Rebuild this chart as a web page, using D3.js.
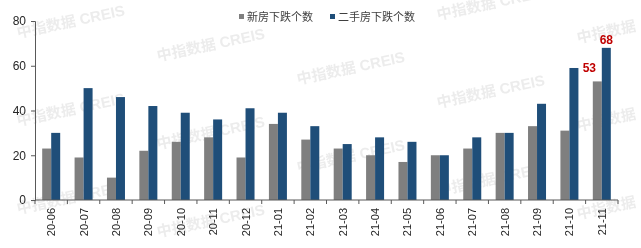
<!DOCTYPE html>
<html lang="zh">
  <head>
    <meta charset="utf-8">
    <title>新房/二手房下跌个数</title>
    <script src="https://d3js.org/d3.v7.js"></script>
    <style>
      body { margin: 0; background: #fff; }
      text { font-family: "Liberation Sans", "Noto Sans CJK SC", sans-serif; }
    </style>
  </head>
  <body>
    <script type="text/javascript">
      var months = ["20-06","20-07","20-08","20-09","20-10","20-11","20-12","21-01","21-02",
                    "21-03","21-04","21-05","21-06","21-07","21-08","21-09","21-10","21-11"];
      var newHome = [23, 19, 10, 22, 26, 28, 19, 34, 27, 23, 20, 17, 20, 23, 30, 33, 31, 53];
      var resale  = [30, 50, 46, 42, 39, 36, 41, 39, 33, 25, 28, 26, 20, 28, 30, 43, 59, 68];
      var seriesNames = ["新房下跌个数", "二手房下跌个数"];
      var colors = ["#7f7f7f", "#1f4e79"];
      var yTicks = [0, 20, 40, 60, 80];

      var w = 641, h = 248;
      var margin = {top: 21, right: 23, bottom: 48, left: 35};

      var svg = d3.select("body").append("svg")
        .attr("width", w).attr("height", h);

      // watermark
      var wm = svg.append("g").attr("fill", "#d0d0d0").attr("opacity", 0.4);
      for (var i = 0; i < 5; i++) {
        for (var j = -1; j < 3; j++) {
          var wx = 18 + 140 * i, wy = 38 + 23.3 * i + 88 * j;
          if (wy < 15 || wy > 250) continue;
          wm.append("text")
            .attr("transform", `translate(${wx},${wy}) rotate(-12)`)
            .style("font-size", "15px")
            .style("font-weight", "bold")
            .text(i === 4 ? "中指数据" : "中指数据 CREIS");
        }
      }

      var x = d3.scaleBand().domain(months)
        .range([margin.left, w - margin.right]);
      var y = d3.scaleLinear().domain([0, 80])
        .range([h - margin.bottom, margin.top]);

      var barW = 9;
      var series = [newHome, resale];
      series.forEach(function(vals, s) {
        svg.append("g").selectAll("rect")
          .data(vals).enter().append("rect")
          .attr("x", (d, k) => x(months[k]) + x.bandwidth() / 2 - barW + s * barW)
          .attr("y", d => y(d))
          .attr("width", barW)
          .attr("height", d => y(0) - y(d))
          .attr("fill", colors[s]);
      });

      // y axis
      var yAxis = svg.append("g")
        .attr("transform", `translate(${margin.left},0)`)
        .call(d3.axisLeft(y).tickValues(yTicks).tickSize(4).tickPadding(5));
      yAxis.select(".domain").attr("stroke", "#595959");
      yAxis.selectAll(".tick line").attr("stroke", "#595959");
      yAxis.selectAll(".tick text").attr("fill", "#262626").style("font-size", "12px");

      // x axis
      var xg = svg.append("g");
      xg.append("line")
        .attr("x1", margin.left).attr("x2", w - margin.right)
        .attr("y1", y(0)).attr("y2", y(0))
        .attr("stroke", "#595959");
      xg.selectAll(".xt").data(months.concat(["end"])).enter().append("line")
        .attr("x1", (d, k) => margin.left + k * x.step())
        .attr("x2", (d, k) => margin.left + k * x.step())
        .attr("y1", y(0)).attr("y2", y(0) + 4)
        .attr("stroke", "#595959");
      xg.selectAll(".xl").data(months).enter().append("text")
        .attr("transform", d => `translate(${x(d) + x.bandwidth() / 2 + 4},${y(0) + 8}) rotate(-90)`)
        .attr("text-anchor", "end")
        .attr("fill", "#262626")
        .style("font-size", "11px")
        .text(d => d);

      // value labels for last month
      var last = months.length - 1;
      [newHome[last], resale[last]].forEach(function(v, s) {
        svg.append("text")
          .attr("x", x(months[last]) + x.bandwidth() / 2 - barW + s * barW + barW / 2 - (s === 0 ? 8 : 0))
          .attr("y", y(v) - (s === 0 ? 9 : 4))
          .attr("text-anchor", "middle")
          .attr("fill", "#c00000")
          .style("font-size", "12px")
          .style("font-weight", "bold")
          .text(v);
      });

      // legend
      var lg = svg.append("g").style("font-size", "11px");
      var lx = [239, 330];
      seriesNames.forEach(function(n, s) {
        lg.append("rect").attr("x", lx[s]).attr("y", 14).attr("width", 5).attr("height", 5)
          .attr("fill", colors[s]);
        lg.append("text").attr("x", lx[s] + 8).attr("y", 21)
          .attr("fill", "#404040").text(n);
      });
    </script>
  </body>
</html>
